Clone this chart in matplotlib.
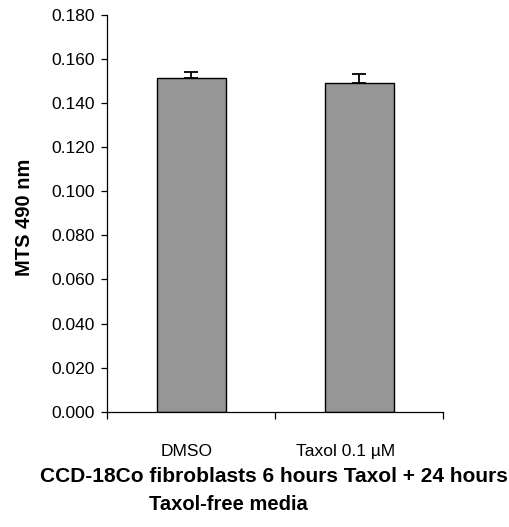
import numpy as np
import matplotlib
matplotlib.use('Agg')
import matplotlib.pyplot as plt
import matplotlib.transforms as mtransforms

# datos
grupos = ['DMSO', 'Taxol 0.1 µM']
mts = [0.1515, 0.1490]
error = [0.0025, 0.0042]

plt.rcParams['font.family'] = ['Liberation Sans', 'DejaVu Sans']

fig = plt.figure(figsize=(5.09, 5.27), dpi=100)
ax = fig.add_axes([0.2108, 0.2188, 0.6601, 0.7527])

x = np.arange(len(grupos))
ax.bar(x, mts, width=0.41, color='#969696', edgecolor='black', linewidth=1.0)
ax.errorbar(x, mts, yerr=[np.zeros(len(error)), error], fmt='none',
            ecolor='black', elinewidth=1.3, capsize=5.2, capthick=1.3)

ax.set_xlim(-0.5, len(grupos) - 0.5)
ax.set_ylim(0, 0.18)
ax.set_yticks(np.arange(0, 0.181, 0.02))
ax.set_yticklabels(['%.3f' % v for v in np.arange(0, 0.181, 0.02)], fontsize=12.5)
ax.tick_params(axis='y', direction='out', length=4, width=0.9, pad=5)

ax.set_xticks(x)
ax.set_xticklabels(grupos, fontsize=12.5)
ax.set_xticks(np.arange(-0.5, len(grupos), 1.0), minor=True)
ax.tick_params(axis='x', which='major', length=0, pad=23)
ax.tick_params(axis='x', which='minor', direction='out', length=5, width=0.9)

# las etiquetas en el original estan algo corridas a la izquierda
desplaz = [-5, -14]
for lbl, dx in zip(ax.get_xticklabels(), desplaz):
    lbl.set_transform(lbl.get_transform() +
                      mtransforms.ScaledTranslation(dx / 100, 0, fig.dpi_scale_trans))

for s in ['top', 'right']:
    ax.spines[s].set_visible(False)
for s in ['left', 'bottom']:
    ax.spines[s].set_linewidth(0.9)

ax.set_ylabel('MTS 490 nm', fontsize=14.5, fontweight='bold')
ax.yaxis.set_label_coords(-0.218, 0.49)

fig.text(274 / 509, 1 - 476 / 527, 'CCD-18Co fibroblasts 6 hours Taxol + 24 hours',
         ha='center', va='center', fontsize=15, fontweight='bold')
fig.text(149 / 509, 1 - 505 / 527, 'Taxol-free media',
         ha='left', va='center', fontsize=14.5, fontweight='bold')

fig.savefig('out.png', dpi=100)
